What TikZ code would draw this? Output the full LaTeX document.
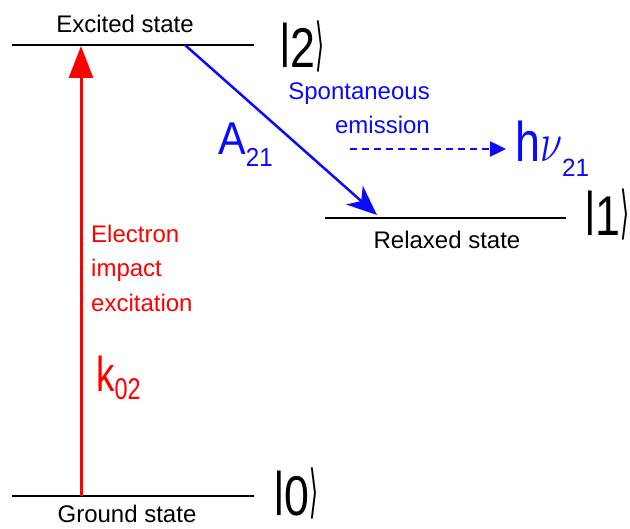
\RequirePackage{fix-cm}
\documentclass[tikz,border=0pt]{standalone}
\usepackage{fontspec}
\setmainfont{Liberation Sans}
\newfontfamily\djv{DejaVu Sans}
\usetikzlibrary{arrows.meta}
\definecolor{rd}{RGB}{255,0,0}
\definecolor{bl}{RGB}{10,10,255}
\newcommand{\hsc}[2]{\scalebox{#1}[1]{#2}}
\newcommand{\fs}[1]{\fontsize{#1}{#1}\selectfont}
\newcommand{\ketlabel}[1]{\raisebox{10pt}{\scalebox{0.8}[0.85]{|}}\hsc{0.8}{#1}\raisebox{3pt}{\scalebox{0.5}[1.25]{\djv\fs{46}⟩}}}
\begin{document}
\begin{tikzpicture}[x=1pt,y=-1pt,
  level/.style={line width=1.5pt,black},
  lbl/.style={inner sep=0pt,font=\fs{24}},
  ket/.style={inner sep=0pt,anchor=base west,font=\fs{56}},
  redarrow/.style={line width=3pt,rd,-{Triangle[length=32pt,width=24pt]}},
  bluearrow/.style={line width=2.5pt,bl,-{Stealth[length=30pt,width=25pt,inset=9pt]}},
  photon/.style={line width=2.5pt,bl,dash pattern=on 7pt off 5pt,-{Triangle[length=16pt,width=15pt]}}]
\useasboundingbox (0,0) rectangle (630,529);
% levels
\coordinate (e0) at (12,45);  \coordinate (e1) at (254,45);
\coordinate (r0) at (325,218); \coordinate (r1) at (566,218);
\coordinate (g0) at (12,496); \coordinate (g1) at (254,496);
\draw[level] (e0) -- (e1);
\draw[level] (r0) -- (r1);
\draw[level] (g0) -- (g1);
% state labels
\node[lbl,anchor=base] (exl) at (125,33) {Excited state};
\node[lbl,anchor=base] (rel) at (447,249) {Relaxed state};
\node[lbl,anchor=base] (gnl) at (127,523) {Ground state};
\node[ket] (k2) at (279,68) {\ketlabel{2}};
\node[ket] (k1) at (584,236) {\ketlabel{1}};
\node[ket] (k0) at (273,515) {\ketlabel{0}};
% excitation
\coordinate (gA) at (81,496);
\coordinate (eA) at (81,46);
\draw[redarrow] (gA) -- (eA);
\node[lbl,anchor=base west,text=rd] (ex1) at (91,243) {Electron};
\node[lbl,anchor=base west,text=rd] (ex2) at (91,277) {impact};
\node[lbl,anchor=base west,text=rd] (ex3) at (91,312) {excitation};
\node[inner sep=0pt,anchor=base west,text=rd] (k02) at (96,392)
  {\fs{49}\hsc{0.75}{k}\raisebox{-8pt}{\fs{30}\hsc{0.78}{02}}};
% emission
\coordinate (eB) at (185,45);
\coordinate (rB) at (377,215);
\draw[bluearrow] (eB) -- (rB);
\node[inner sep=0pt,anchor=base west,text=bl] (a21) at (218,155)
  {\fs{46}\hsc{0.9}{A}\raisebox{-12pt}{\fs{26}\hsc{0.93}{21}}};
\node[lbl,anchor=base east,text=bl] (sp1) at (430,100) {Spontaneous};
\node[lbl,anchor=base east,text=bl] (sp2) at (430,134) {emission};
\coordinate (d0) at (350,149);
\coordinate (d1) at (506,149);
\draw[photon] (d0) -- (d1);
\node[inner sep=0pt,anchor=base west,text=bl] (hnu) at (515,162)
  {\fs{56}\hsc{0.8}{h}\hsc{0.72}{$\nu$}\raisebox{-15pt}{\fs{25}\hsc{0.97}{21}}};
\end{tikzpicture}
\end{document}
